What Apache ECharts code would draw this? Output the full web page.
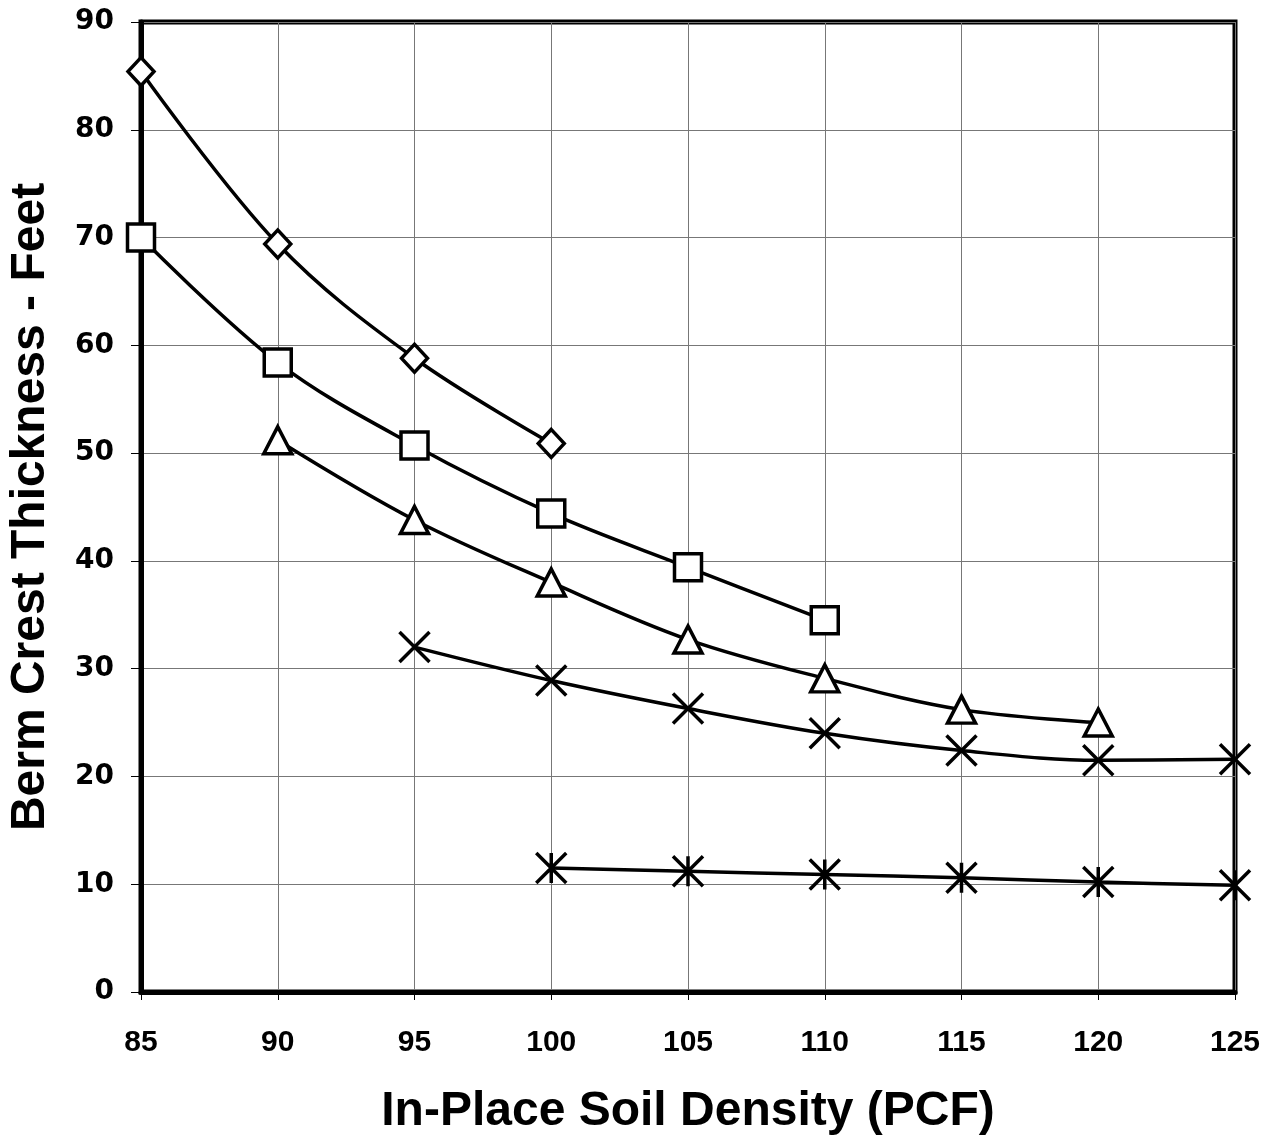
<!DOCTYPE html>
<html>
<head>
<meta charset="utf-8">
<script src="https://cdn.jsdelivr.net/npm/echarts@6/dist/echarts.min.js"></script>
<style>
html,body{margin:0;padding:0;background:#fff;}
#chart{width:1277px;height:1138px;}
</style>
</head>
<body>
<div id="chart"></div>
<script>
var xTicks = [85, 90, 95, 100, 105, 110, 115, 120, 125];
var diamondX = [85, 90, 95, 100];
var diamondY = [85.4, 69.4, 58.8, 50.9];
var squareX = [85, 90, 95, 100, 105, 110];
var squareY = [70.0, 58.4, 50.7, 44.4, 39.4, 34.5];
var triangleX = [90, 95, 100, 105, 110, 115, 120];
var triangleY = [51.2, 43.8, 38.0, 32.7, 29.1, 26.2, 25.0];
var crossX = [95, 100, 105, 110, 115, 120, 125];
var crossY = [32.0, 28.9, 26.3, 24.0, 22.4, 21.5, 21.6];
var starX = [100, 105, 110, 115, 120, 125];
var starY = [11.5, 11.2, 10.9, 10.6, 10.2, 9.9];

function pairs(xs, ys) { return xs.map(function (x, i) { return [x, ys[i]]; }); }

var crossPath = 'path://M0 0 L10 10 M10 0 L0 10';
var starPath = 'path://M0 0 L10 10 M10 0 L0 10 M5 0 L5 10';

var titleFont = '"Liberation Sans Narrow", "Arial Narrow", "Liberation Sans", Arial, sans-serif';
var tickFont = '"Liberation Sans", Arial, sans-serif';
var yTickFont = '"DejaVu Sans", Verdana, sans-serif';

function mkSeries(xs, ys, symbol, size) {
  return {
    type: 'line',
    data: pairs(xs, ys),
    smooth: 0.35,
    symbol: symbol,
    symbolSize: size,
    showAllSymbol: true,
    lineStyle: { color: '#000', width: 3.5 },
    itemStyle: { color: '#fff', borderColor: '#000', borderWidth: 3.5 },
    emphasis: { disabled: true },
    z: 3
  };
}

var chart = echarts.init(document.getElementById('chart'), null, { renderer: 'canvas' });
chart.setOption({
  animation: false,
  backgroundColor: '#fff',
  grid: { left: 141, right: 42, top: 22, bottom: 146, containLabel: false, outerBoundsMode: 'none',
    show: true, borderColor: '#000', borderWidth: 5, backgroundColor: 'transparent' },
  xAxis: {
    type: 'value', min: 85, max: 125, interval: 5,
    name: 'In-Place Soil Density (PCF)', nameLocation: 'middle', nameGap: 96,
    nameTextStyle: { fontFamily: titleFont, fontWeight: 'bold', fontSize: 48, color: '#000' },
    axisLine: { show: true, lineStyle: { color: '#000', width: 5 } },
    axisTick: { show: true, length: 8, lineStyle: { color: '#000', width: 1 } },
    axisLabel: { margin: 36, fontFamily: tickFont, fontWeight: 'bold', fontSize: 30, color: '#000',
      formatter: function (v) { return xTicks.indexOf(v) >= 0 ? String(v) : ''; } },
    splitLine: { show: true, lineStyle: { color: '#777', width: 1 } }
  },
  yAxis: {
    type: 'value', min: 0, max: 90, interval: 10,
    name: 'Berm Crest Thickness - Feet', nameLocation: 'middle', nameGap: 86,
    nameTextStyle: { fontFamily: titleFont, fontWeight: 'bold', fontSize: 48, color: '#000' },
    axisLine: { show: true, lineStyle: { color: '#000', width: 5 } },
    axisTick: { show: true, length: 10, lineStyle: { color: '#000', width: 1 } },
    axisLabel: { margin: 27, fontFamily: yTickFont, fontWeight: 'bold', fontSize: 28, color: '#000' },
    splitLine: { show: true, lineStyle: { color: '#777', width: 1 } }
  },
  series: [
    mkSeries(diamondX, diamondY, 'diamond', [26, 28]),
    mkSeries(squareX, squareY, 'rect', [27, 27]),
    mkSeries(triangleX, triangleY, 'triangle', [28, 27]),
    mkSeries(crossX, crossY, crossPath, [30, 30]),
    mkSeries(starX, starY, starPath, [30, 30])
  ]
});
</script>
</body>
</html>
